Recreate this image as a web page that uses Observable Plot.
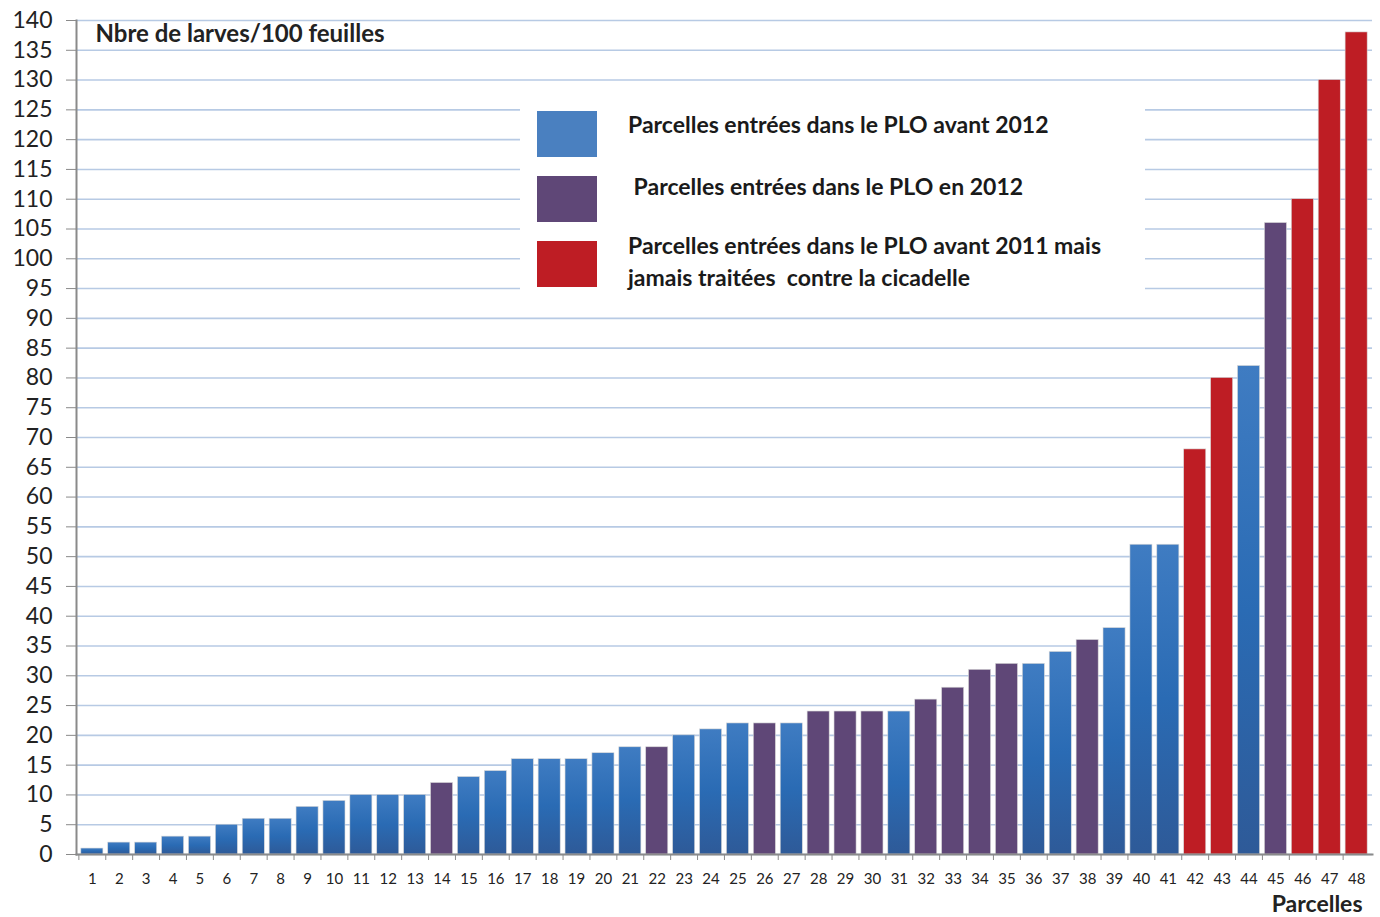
<!DOCTYPE html>
<html><head><meta charset="utf-8">
<script src="https://cdn.jsdelivr.net/npm/d3@7"></script>
<script src="https://cdn.jsdelivr.net/npm/@observablehq/plot@0.6"></script>
<style>
body{margin:0;background:#fff;font-family:Lato,sans-serif}
#wrap{position:relative;width:1380px;height:917px}
#legend{position:absolute;left:520px;top:92px;width:625px;height:216px;background:#fff}
.sw{position:absolute;left:17px;width:60px;height:46px}
.lab{position:absolute;left:108px;font-weight:bold;font-size:23px;color:#1a1a1a;line-height:32px;white-space:nowrap}
</style></head><body><div id="wrap"></div>
<script>
const parcelles = ["1","2","3","4","5","6","7","8","9","10","11","12","13","14","15","16","17","18","19","20","21","22","23","24","25","26","27","28","29","30","31","32","33","34","35","36","37","38","39","40","41","42","43","44","45","46","47","48"];
const larves = [1,2,2,3,3,5,6,6,8,9,10,10,10,12,13,14,16,16,16,17,18,18,20,21,22,22,22,24,24,24,24,26,28,31,32,32,34,36,38,52,52,68,80,82,106,110,130,138];
const groupe = ["A","A","A","A","A","A","A","A","A","A","A","A","A","B","A","A","A","A","A","A","A","B","A","A","A","B","A","B","B","B","A","B","B","B","B","A","A","B","A","A","A","C","C","A","B","C","C","C"];
const groupKeys = ["A","B","C"];
const groupLabels = ["Parcelles entrées dans le PLO avant 2012", "\u00a0Parcelles entrées dans le PLO en 2012", "Parcelles entrées dans le PLO avant 2011 mais<br>jamais traitées&nbsp; contre la cicadelle"];
const barFills = ["url(#gBlue)", "#5f4777", "#be1d24"];
const legendFills = ["#4a80c0", "#5f4777", "#be1d24"];
const yTicks = [0,5,10,15,20,25,30,35,40,45,50,55,60,65,70,75,80,85,90,95,100,105,110,115,120,125,130,135,140];
const yTitle = "Nbre de larves/100 feuilles";
const xTitle = "Parcelles";

const data = parcelles.map((p, i) => ({parcelle: p, value: larves[i], group: groupe[i]}));
const W = 1380, H = 917, mL = 76, mR = 8;
const step = (W - mL - mR) / parcelles.length;

const chart = Plot.plot({
  width: W, height: H,
  marginLeft: mL, marginRight: mR, marginTop: 20, marginBottom: 63,
  x: {type: "band", domain: parcelles, padding: 0.18, label: null},
  y: {domain: [0, 140], label: null},
  color: {type: "ordinal", domain: groupKeys, range: barFills},
  style: {fontFamily: "Lato, sans-serif", background: "white", color: "#222"},
  marks: [
    Plot.gridY(yTicks, {stroke: "#b7cae4", strokeOpacity: 1, strokeWidth: 1.6}),
    Plot.barY(data, {x: "parcelle", y: "value", fill: "group", stroke: "#d8d8d8", strokeWidth: 0.6}),
    Plot.frame({anchor: "left", stroke: "#8a8a8a", strokeWidth: 2}),
    Plot.frame({anchor: "bottom", stroke: "#8a8a8a", strokeWidth: 2}),
    Plot.axisY(yTicks, {tickSize: 10, tickPadding: 14, fontSize: 23, stroke: "#8a8a8a", fill: "#222", label: null}),
    Plot.axisX({tickSize: 0, tickPadding: 19, fontSize: 15, fill: "#222", label: null}),
    Plot.axisX({tickSize: 6, tickFormat: () => "", dx: -step / 2, stroke: "#8a8a8a", label: null}),
    Plot.text([yTitle], {text: d => d, frameAnchor: "top-left", textAnchor: "start", lineAnchor: "middle", dx: 19, dy: 14, fontSize: 24, fontWeight: "bold", fill: "#222"}),
    Plot.text([xTitle], {text: d => d, frameAnchor: "bottom-right", textAnchor: "end", lineAnchor: "middle", dx: -10, dy: 50, fontSize: 23, fontWeight: "bold", fill: "#222"})
  ]
});

const defs = d3.select(chart).insert("defs", ":first-child");
const g = defs.append("linearGradient").attr("id", "gBlue").attr("x1", 0).attr("y1", 0).attr("x2", 0).attr("y2", 1);
g.append("stop").attr("offset", "0%").attr("stop-color", "#3f7cc2");
g.append("stop").attr("offset", "50%").attr("stop-color", "#2a6bb4");
g.append("stop").attr("offset", "100%").attr("stop-color", "#2e5a98");

const wrap = document.getElementById("wrap");
wrap.appendChild(chart);

const legend = document.createElement("div");
legend.id = "legend";
const swTops = [19, 84, 149];
const labTops = [16, 78, 137];
groupKeys.forEach((k, i) => {
  const sw = document.createElement("div");
  sw.className = "sw";
  sw.style.top = swTops[i] + "px";
  sw.style.background = legendFills[i];
  const lab = document.createElement("div");
  lab.className = "lab";
  lab.style.top = labTops[i] + "px";
  lab.innerHTML = groupLabels[i];
  legend.appendChild(sw);
  legend.appendChild(lab);
});
wrap.appendChild(legend);
</script>
</body></html>
